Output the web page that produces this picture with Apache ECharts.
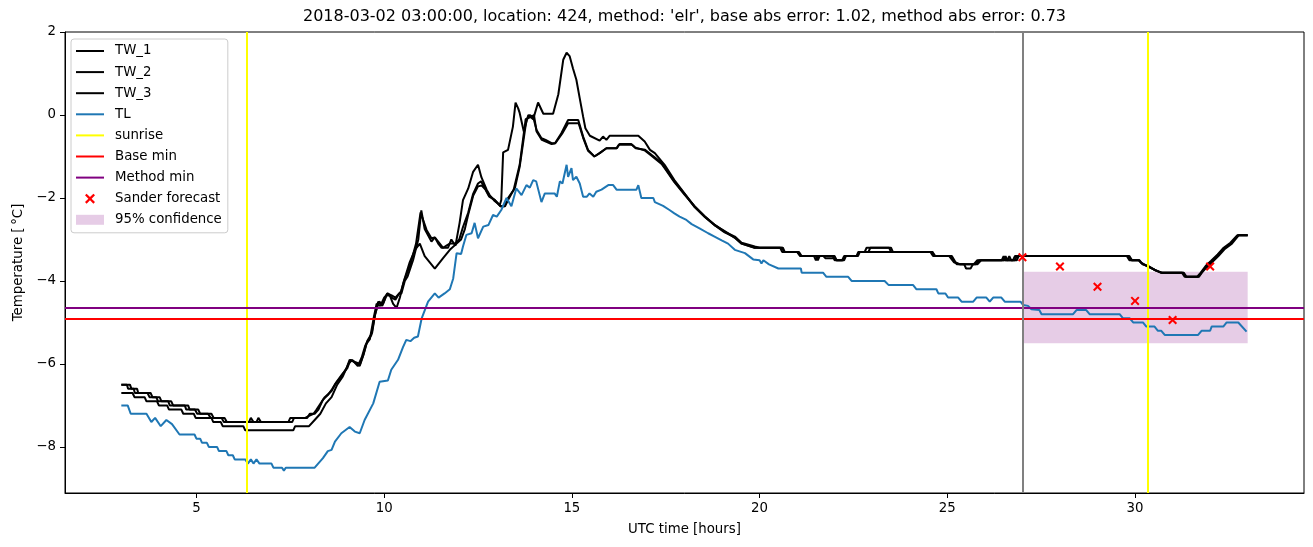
<!DOCTYPE html>
<html>
<head>
<meta charset="utf-8">
<script src="https://cdn.jsdelivr.net/npm/echarts@6/dist/echarts.min.js"></script>
<style>html,body{margin:0;padding:0;background:#fff}#c{width:1313px;height:547px}</style>
</head>
<body>
<div id="c"></div>
<script>
// ---- data (hours UTC, temperature °C) ----
const tw1 = [[3.0,-6.7],[3.3,-6.7],[3.35,-6.8],[3.62,-6.8],[3.67,-6.9],[3.95,-6.9],[4.0,-7.0],[4.22,-7.0],[4.27,-7.1],[4.6,-7.1],[4.65,-7.2],[4.93,-7.2],[4.98,-7.3],[5.4,-7.3],[5.45,-7.4],[5.65,-7.4],[5.7,-7.5],[6.25,-7.5],[6.3,-7.6],[7.58,-7.6],[7.63,-7.5],[8.0,-7.5],[8.15,-7.35],[8.3,-7.2],[8.45,-6.95],[8.6,-6.8],[8.75,-6.5],[8.9,-6.3],[9.05,-6.0],[9.15,-5.9],[9.3,-6.05],[9.4,-5.85],[9.5,-5.55],[9.62,-5.4],[9.72,-4.9],[9.8,-4.55],[9.9,-4.6],[10.0,-4.4],[10.1,-4.3],[10.2,-4.4],[10.3,-4.45],[10.4,-4.3],[10.46,-4.3],[10.55,-4.0],[10.62,-3.9],[10.77,-3.5],[10.91,-3.0],[10.99,-2.3],[11.08,-2.75],[11.26,-3.05],[11.35,-2.95],[11.44,-3.1],[11.53,-3.2],[11.7,-3.2],[11.79,-3.0],[11.9,-3.15],[12.01,-2.6],[12.1,-2.05],[12.24,-1.77],[12.37,-1.37],[12.5,-1.2],[12.59,-1.5],[12.73,-1.8],[12.81,-1.93],[12.95,-2.08],[13.08,-2.17],[13.12,-2.05],[13.17,-0.9],[13.3,-0.84],[13.43,-0.28],[13.5,0.3],[13.57,0.16],[13.61,0.05],[13.72,-0.4],[13.84,0.0],[13.97,-0.1],[14.1,0.3],[14.24,0.03],[14.5,0.03],[14.64,0.5],[14.77,1.33],[14.86,1.5],[14.94,1.42],[15.03,1.12],[15.12,0.85],[15.21,0.4],[15.3,-0.04],[15.36,-0.32],[15.48,-0.5],[15.74,-0.62],[15.83,-0.52],[15.92,-0.6],[16.01,-0.5],[16.77,-0.5],[16.94,-0.64],[17.08,-0.84],[17.21,-0.92],[17.47,-1.2],[17.73,-1.57],[18.0,-1.89],[18.27,-2.21],[18.54,-2.45],[18.81,-2.65],[19.07,-2.81],[19.34,-2.93],[19.52,-3.08],[19.87,-3.17],[20.0,-3.2],[20.6,-3.2],[20.65,-3.3],[21.0,-3.3],[21.1,-3.4],[21.5,-3.4],[21.55,-3.5],[21.6,-3.4],[22.0,-3.4],[22.05,-3.5],[22.25,-3.5],[22.3,-3.4],[22.6,-3.4],[22.65,-3.3],[22.8,-3.3],[22.85,-3.2],[23.5,-3.2],[23.55,-3.3],[24.6,-3.3],[24.65,-3.4],[25.1,-3.4],[25.2,-3.55],[25.35,-3.6],[25.75,-3.6],[25.85,-3.5],[26.5,-3.5],[26.55,-3.4],[26.6,-3.5],[26.8,-3.5],[26.85,-3.4],[29.8,-3.4],[29.9,-3.5],[30.1,-3.5],[30.17,-3.57],[30.35,-3.65],[30.52,-3.73],[30.7,-3.8],[31.28,-3.8],[31.35,-3.9],[31.68,-3.9],[31.77,-3.8],[31.9,-3.65],[32.04,-3.53],[32.21,-3.37],[32.38,-3.21],[32.56,-3.09],[32.74,-2.9],[33.0,-2.9]];
const tw2 = [[3.0,-6.5],[3.15,-6.5],[3.18,-6.6],[3.33,-6.6],[3.36,-6.7],[3.7,-6.7],[3.75,-6.8],[3.93,-6.8],[3.98,-6.9],[4.25,-6.9],[4.29,-7.0],[4.69,-7.0],[4.73,-7.1],[4.96,-7.1],[5.02,-7.2],[5.31,-7.2],[5.38,-7.3],[5.67,-7.3],[5.73,-7.4],[6.6,-7.4],[6.65,-7.3],[6.72,-7.4],[7.55,-7.4],[7.6,-7.3],[7.95,-7.3],[8.02,-7.2],[8.15,-7.2],[8.25,-7.1],[8.35,-6.9],[8.42,-6.8],[8.6,-6.65],[8.69,-6.5],[8.86,-6.3],[9.0,-6.1],[9.08,-5.9],[9.2,-5.95],[9.35,-6.05],[9.44,-5.8],[9.53,-5.5],[9.66,-5.3],[9.75,-4.85],[9.84,-4.5],[9.95,-4.6],[10.06,-4.35],[10.15,-4.35],[10.24,-4.55],[10.33,-4.65],[10.42,-4.4],[10.51,-4.05],[10.68,-3.55],[10.82,-3.25],[10.95,-3.1],[11.08,-3.4],[11.35,-3.7],[11.57,-3.45],[11.75,-3.25],[11.93,-3.1],[12.05,-3.0],[12.15,-2.75],[12.24,-2.4],[12.37,-1.95],[12.5,-1.72],[12.6,-1.7],[12.7,-1.8],[12.8,-1.97],[12.95,-2.05],[13.1,-2.2],[13.2,-2.2],[13.3,-2.0],[13.48,-1.77],[13.61,-1.25],[13.79,-0.12],[13.88,0.0],[13.97,-0.05],[14.06,-0.36],[14.19,-0.56],[14.3,-0.6],[14.46,-0.68],[14.55,-0.68],[14.72,-0.44],[14.9,-0.12],[15.17,-0.12],[15.3,-0.52],[15.43,-0.84],[15.6,-1.0],[15.74,-0.92],[15.92,-0.8],[16.19,-0.8],[16.25,-0.72],[16.6,-0.72],[16.7,-0.8],[16.95,-0.84],[17.12,-0.96],[17.39,-1.15],[17.5,-1.3],[17.73,-1.6],[18.0,-1.9],[18.27,-2.22],[18.54,-2.46],[18.81,-2.66],[19.07,-2.83],[19.34,-2.95],[19.52,-3.1],[19.87,-3.2],[20.62,-3.2],[20.67,-3.3],[21.05,-3.3],[21.12,-3.4],[21.7,-3.4],[21.75,-3.45],[22.0,-3.45],[22.05,-3.5],[22.22,-3.5],[22.27,-3.4],[22.62,-3.4],[22.67,-3.3],[24.6,-3.3],[24.68,-3.4],[25.12,-3.4],[25.25,-3.6],[25.45,-3.6],[25.5,-3.7],[25.62,-3.7],[25.68,-3.6],[25.8,-3.6],[25.9,-3.5],[26.6,-3.5],[26.65,-3.4],[26.7,-3.5],[26.85,-3.5],[26.9,-3.4],[29.85,-3.4],[29.92,-3.5],[30.12,-3.5],[30.2,-3.6],[30.37,-3.65],[30.55,-3.75],[30.72,-3.8],[31.3,-3.8],[31.37,-3.9],[31.7,-3.9],[31.78,-3.8],[31.9,-3.68],[32.05,-3.55],[32.22,-3.4],[32.4,-3.22],[32.58,-3.1],[32.76,-2.9],[33.0,-2.9]];
const tw3 = [[3.0,-6.5],[3.23,-6.5],[3.27,-6.6],[3.42,-6.6],[3.45,-6.7],[3.78,-6.7],[3.83,-6.8],[4.02,-6.8],[4.07,-6.9],[4.33,-6.9],[4.38,-7.0],[4.78,-7.0],[4.82,-7.1],[5.05,-7.1],[5.1,-7.2],[5.4,-7.2],[5.46,-7.3],[5.75,-7.3],[5.81,-7.4],[6.4,-7.4],[6.45,-7.3],[6.52,-7.4],[7.45,-7.4],[7.5,-7.3],[7.9,-7.3],[8.0,-7.25],[8.12,-7.2],[8.2,-7.1],[8.38,-6.85],[8.5,-6.75],[8.62,-6.6],[8.72,-6.45],[8.88,-6.25],[9.02,-6.1],[9.1,-5.9],[9.22,-5.95],[9.36,-6.0],[9.46,-5.75],[9.55,-5.45],[9.68,-5.25],[9.76,-4.8],[9.86,-4.5],[9.97,-4.55],[10.08,-4.3],[10.2,-4.35],[10.3,-4.4],[10.45,-4.25],[10.55,-3.95],[10.7,-3.6],[10.85,-3.1],[10.97,-2.35],[11.13,-2.77],[11.26,-2.97],[11.35,-2.95],[11.44,-3.05],[11.57,-3.2],[11.66,-3.15],[11.75,-3.1],[11.9,-3.1],[12.0,-3.0],[12.1,-2.7],[12.24,-2.35],[12.37,-1.9],[12.5,-1.65],[12.58,-1.6],[12.68,-1.75],[12.8,-1.95],[12.95,-2.05],[13.1,-2.2],[13.22,-2.2],[13.3,-2.05],[13.45,-1.8],[13.61,-1.2],[13.77,-0.1],[13.9,-0.05],[13.99,0.0],[14.06,-0.4],[14.2,-0.6],[14.46,-0.7],[14.56,-0.68],[14.74,-0.45],[14.9,-0.2],[15.18,-0.2],[15.3,-0.55],[15.43,-0.86],[15.6,-1.0],[15.74,-0.92],[15.92,-0.8],[16.2,-0.8],[16.27,-0.7],[16.58,-0.7],[16.68,-0.78],[16.95,-0.86],[17.12,-0.98],[17.39,-1.18],[17.5,-1.32],[17.73,-1.62],[18.0,-1.92],[18.27,-2.2],[18.54,-2.44],[18.81,-2.66],[19.07,-2.8],[19.34,-2.96],[19.52,-3.1],[19.87,-3.2],[20.55,-3.2],[20.6,-3.3],[21.0,-3.3],[21.08,-3.4],[21.45,-3.4],[21.5,-3.5],[21.56,-3.4],[21.95,-3.4],[22.0,-3.5],[22.2,-3.5],[22.25,-3.4],[22.58,-3.4],[22.63,-3.3],[22.9,-3.3],[22.95,-3.2],[23.45,-3.2],[23.5,-3.3],[24.55,-3.3],[24.62,-3.4],[25.05,-3.4],[25.18,-3.55],[25.32,-3.6],[25.7,-3.6],[25.8,-3.5],[26.45,-3.5],[26.5,-3.4],[26.55,-3.5],[26.75,-3.5],[26.8,-3.4],[29.78,-3.4],[29.85,-3.5],[30.1,-3.5],[30.15,-3.55],[30.33,-3.65],[30.5,-3.72],[30.68,-3.8],[31.25,-3.8],[31.32,-3.9],[31.65,-3.9],[31.75,-3.8],[31.88,-3.64],[32.02,-3.52],[32.2,-3.36],[32.36,-3.2],[32.54,-3.08],[32.72,-2.9],[33.0,-2.9]];
const tl = [[3.0,-7.0],[3.17,-7.0],[3.25,-7.2],[3.67,-7.2],[3.8,-7.4],[3.9,-7.3],[4.05,-7.5],[4.2,-7.35],[4.35,-7.45],[4.55,-7.7],[4.95,-7.7],[5.0,-7.8],[5.1,-7.8],[5.15,-7.9],[5.28,-7.9],[5.33,-8.0],[5.55,-8.0],[5.6,-8.1],[5.8,-8.1],[5.85,-8.2],[5.97,-8.2],[6.02,-8.3],[6.3,-8.3],[6.37,-8.4],[6.45,-8.3],[6.52,-8.4],[6.6,-8.3],[6.68,-8.4],[7.0,-8.4],[7.05,-8.5],[7.28,-8.5],[7.33,-8.57],[7.38,-8.5],[8.15,-8.5],[8.37,-8.27],[8.5,-8.1],[8.6,-8.07],[8.69,-7.87],[8.86,-7.67],[9.08,-7.52],[9.22,-7.63],[9.35,-7.67],[9.48,-7.35],[9.71,-6.95],[9.88,-6.43],[10.1,-6.4],[10.19,-6.14],[10.37,-5.9],[10.5,-5.6],[10.59,-5.42],[10.7,-5.45],[10.8,-5.37],[10.9,-5.34],[11.0,-4.9],[11.17,-4.5],[11.35,-4.3],[11.45,-4.4],[11.61,-4.3],[11.75,-4.2],[11.84,-3.94],[11.93,-3.33],[12.05,-3.35],[12.1,-3.17],[12.19,-2.89],[12.33,-2.85],[12.41,-2.6],[12.5,-2.97],[12.64,-2.69],[12.78,-2.65],[12.9,-2.41],[13.0,-2.45],[13.12,-2.29],[13.26,-2.0],[13.39,-2.2],[13.52,-1.77],[13.66,-1.93],[13.79,-1.69],[13.88,-1.75],[13.97,-1.57],[14.05,-1.6],[14.19,-2.1],[14.28,-1.89],[14.54,-1.89],[14.6,-1.97],[14.68,-1.6],[14.75,-1.65],[14.86,-1.2],[14.9,-1.49],[14.99,-1.28],[15.03,-1.57],[15.12,-1.49],[15.21,-1.65],[15.3,-1.97],[15.4,-1.97],[15.47,-1.89],[15.57,-1.97],[15.65,-1.85],[15.79,-1.8],[15.97,-1.69],[16.1,-1.69],[16.19,-1.8],[16.72,-1.8],[16.77,-1.69],[16.85,-2.0],[17.17,-2.0],[17.21,-2.1],[17.43,-2.19],[17.6,-2.29],[17.73,-2.37],[17.87,-2.45],[18.05,-2.53],[18.19,-2.63],[18.4,-2.73],[18.63,-2.85],[18.8,-2.93],[18.99,-3.02],[19.16,-3.1],[19.34,-3.25],[19.61,-3.33],[19.83,-3.48],[20.0,-3.5],[20.05,-3.58],[20.1,-3.5],[20.25,-3.6],[20.5,-3.7],[21.1,-3.7],[21.12,-3.8],[21.69,-3.8],[21.78,-3.9],[22.36,-3.9],[22.45,-4.0],[23.33,-4.0],[23.44,-4.1],[24.09,-4.1],[24.18,-4.2],[24.71,-4.2],[24.76,-4.3],[24.95,-4.3],[25.02,-4.4],[25.29,-4.4],[25.38,-4.5],[25.69,-4.5],[25.78,-4.4],[26.04,-4.4],[26.13,-4.5],[26.22,-4.4],[26.44,-4.4],[26.53,-4.5],[26.95,-4.5],[27.02,-4.58],[27.15,-4.6],[27.24,-4.68],[27.45,-4.7],[27.51,-4.8],[28.35,-4.8],[28.44,-4.7],[28.7,-4.7],[28.79,-4.8],[29.59,-4.8],[29.68,-4.9],[29.86,-4.9],[29.95,-5.0],[30.21,-5.0],[30.3,-5.1],[30.52,-5.1],[30.61,-5.2],[30.7,-5.2],[30.79,-5.3],[31.68,-5.3],[31.77,-5.2],[32.0,-5.2],[32.04,-5.1],[32.35,-5.1],[32.44,-5.0],[32.75,-5.0],[32.97,-5.22]];
const forecast = [[27,-3.43],[28,-3.65],[29,-4.14],[30,-4.48],[31,-4.94],[32,-3.65]];
const sunriseHours = [6.33, 30.33];
const forecastStart = 27;
const baseMin = -4.92;
const methodMin = -4.64;
const confidenceX = [27, 33];
const confidenceY = [-5.5, -3.78];
const xTicks = [5, 10, 15, 20, 25, 30];
const yTicks = [-8, -6, -4, -2, 0, 2];
const titleText = "2018-03-02 03:00:00, location: 424, method: 'elr', base abs error: 1.02, method abs error: 0.73";

// ---- chart ----
const FONT = 'DejaVu Sans';
const xShape = 'M0,1.6 L1.6,0 L5,3.4 L8.4,0 L10,1.6 L6.6,5 L10,8.4 L8.4,10 L5,6.6 L1.6,10 L0,8.4 L3.4,5 Z';
const xPath = 'path://' + xShape;
const xPathLegend = 'path://M-2,-2 M12,12 ' + xShape;
const lineIcon = 'path://M0,0 H28 V2 H0 Z';
const patchIcon = 'path://M0,0 H28 V10 H0 Z';
const minus = v => String(v).replace('-', '\u2212');

function lineSeries(name, data, color, z) {
  return { name, type: 'line', data, color, z: z || 2, showSymbol: false, symbol: 'none',
    lineStyle: { color, width: 2 }, silent: true, animation: false };
}
function markLineSeries(name, color, items, z) {
  return { name, type: 'line', data: [], color, z: z || 3, symbol: 'none', lineStyle: { color, width: 2 },
    markLine: { silent: true, symbol: ['none', 'none'], label: { show: false },
      lineStyle: { color, width: 2, type: 'solid' }, emphasis: { disabled: true }, animation: false, data: items },
    animation: false };
}

const chart = echarts.init(document.getElementById('c'), null, { renderer: 'canvas' });
chart.setOption({
  animation: false,
  backgroundColor: '#fff',
  textStyle: { fontFamily: FONT },
  title: { text: titleText, left: 684.5, textAlign: 'center', top: 9, padding: 0,
    textStyle: { fontFamily: FONT, fontSize: 16, fontWeight: 'normal', color: '#000' } },
  grid: { left: 65, right: 9, top: 32, bottom: 54, show: true, borderColor: '#000', borderWidth: 1, containLabel: false },
  legend: {
    orient: 'vertical', left: 71, top: 39, itemWidth: 28, itemHeight: 14, itemGap: 7.1,
    padding: [5, 6, 6, 5], backgroundColor: 'rgba(255,255,255,0.8)', borderColor: '#cccccc', borderWidth: 1, borderRadius: 3,
    selectedMode: false,
    textStyle: { fontFamily: FONT, fontSize: 13.33, color: '#000', padding: [0, 0, 0, 6], lineHeight: 14 },
    data: [
      { name: 'TW_1', icon: lineIcon }, { name: 'TW_2', icon: lineIcon }, { name: 'TW_3', icon: lineIcon },
      { name: 'TL', icon: lineIcon }, { name: 'sunrise', icon: lineIcon }, { name: 'Base min', icon: lineIcon },
      { name: 'Method min', icon: lineIcon }, { name: 'Sander forecast', icon: xPathLegend },
      { name: '95% confidence', icon: patchIcon }
    ]
  },
  xAxis: {
    type: 'value', min: 1.5, max: 34.5,
    name: 'UTC time [hours]', nameLocation: 'middle', nameGap: 30,
    nameTextStyle: { fontFamily: FONT, fontSize: 13.33, color: '#000' },
    axisLine: { show: true, onZero: false, lineStyle: { color: '#000', width: 1 } },
    axisTick: { show: true, length: 5, lineStyle: { color: '#000', width: 1 }, customValues: xTicks },
    axisLabel: { show: true, margin: 9, fontFamily: FONT, fontSize: 13.33, color: '#000', customValues: xTicks, formatter: minus },
    splitLine: { show: false }
  },
  yAxis: {
    type: 'value', min: -9.11, max: 2,
    name: 'Temperature [\u2009°C]', nameLocation: 'middle', nameGap: 40, nameRotate: 90,
    nameTextStyle: { fontFamily: FONT, fontSize: 13.33, color: '#000' },
    axisLine: { show: true, onZero: false, lineStyle: { color: '#000', width: 1 } },
    axisTick: { show: true, length: 5, lineStyle: { color: '#000', width: 1 }, customValues: yTicks },
    axisLabel: { show: true, margin: 9, fontFamily: FONT, fontSize: 13.33, color: '#000', customValues: yTicks, formatter: minus },
    splitLine: { show: false }
  },
  series: [
    lineSeries('TW_1', tw1, '#000000'),
    lineSeries('TW_2', tw2, '#000000'),
    lineSeries('TW_3', tw3, '#000000'),
    lineSeries('TL', tl, '#1f77b4'),
    markLineSeries('sunrise', '#ffff00', sunriseHours.map(h => ({ xAxis: h }))),
    markLineSeries('Base min', '#ff0000', [{ yAxis: baseMin }]),
    markLineSeries('Method min', '#800080', [{ yAxis: methodMin }]),
    markLineSeries('forecast start', '#808080', [{ xAxis: forecastStart }]),
    { name: 'Sander forecast', type: 'scatter', data: forecast, symbol: xPath, symbolSize: 9, color: '#ff0000',
      itemStyle: { color: '#ff0000', opacity: 1 }, z: 7, silent: true, animation: false },
    { name: '95% confidence', type: 'line', data: [], color: 'rgba(128,0,128,0.2)', z: 6,
      itemStyle: { color: 'rgba(128,0,128,0.2)' }, lineStyle: { color: 'rgba(128,0,128,0.2)' },
      markArea: { silent: true, itemStyle: { color: 'rgba(128,0,128,0.2)' }, emphasis: { disabled: true },
        label: { show: false },
        data: [[{ xAxis: confidenceX[0], yAxis: confidenceY[0] }, { xAxis: confidenceX[1], yAxis: confidenceY[1] }]] },
      animation: false }
  ]
});
</script>
</body>
</html>
